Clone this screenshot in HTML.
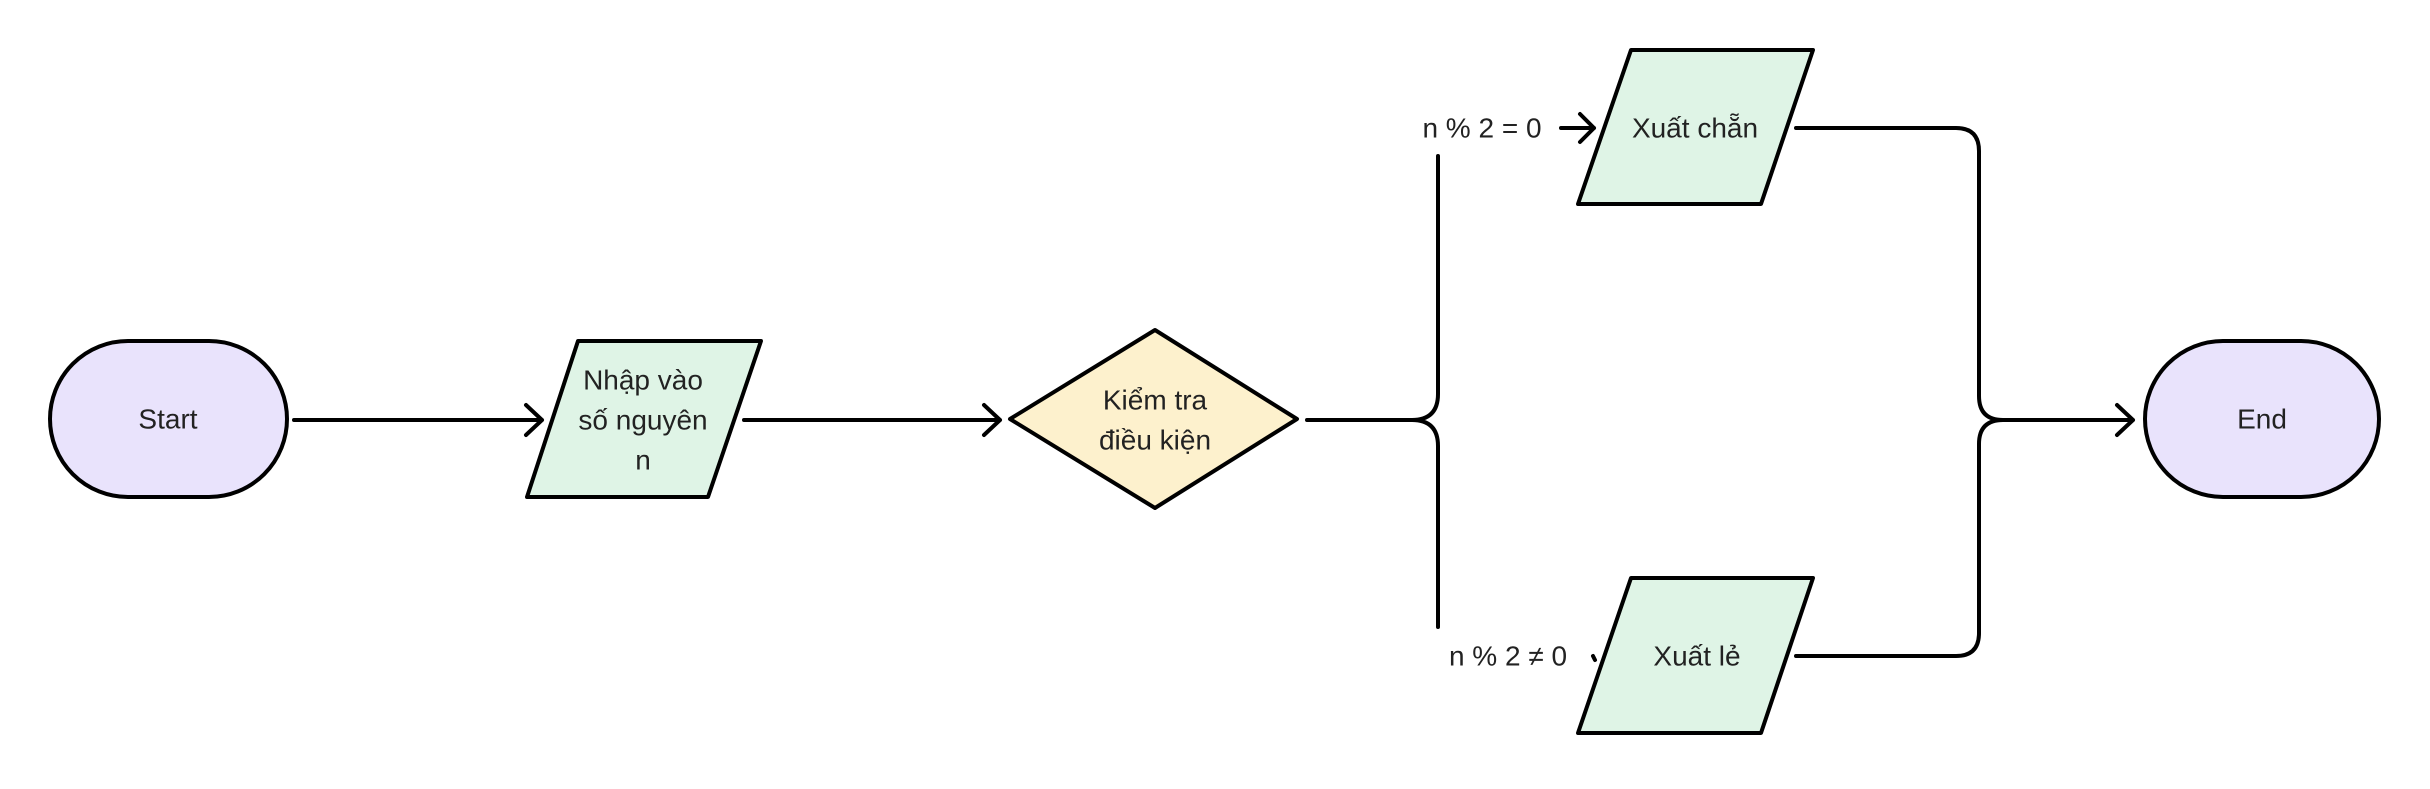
<!DOCTYPE html>
<html><head><meta charset="utf-8"><style>
html,body{margin:0;padding:0;background:#fff;}
svg text{font-family:"Liberation Sans Narrow","Liberation Sans","DejaVu Sans",sans-serif;fill:#222;font-size:28px;text-anchor:middle;dominant-baseline:middle;}
</style></head><body>
<svg width="2430" height="784" viewBox="0 0 2430 784" xmlns="http://www.w3.org/2000/svg">
<g fill="none" stroke="#000" stroke-width="4" stroke-linecap="round" stroke-linejoin="round">
  <path d="M294 420 H542 M526 405 L542 420 L526 435"/>
  <path d="M744 420 H1000 M984 405 L1000 420 L984 435"/>
  <path d="M1307 420 H1412 Q1438 420 1438 394 V156 M1412 420 Q1438 420 1438 446 V627"/>
  <path d="M1561 128 H1594 M1580 114 L1594 128 L1580 142"/>
  <path d="M1593 656 L1595 660"/>
  <path d="M1796 128 H1956 Q1979 128 1979 151 V396 Q1979 420 2003 420 M1796 656 H1956 Q1979 656 1979 633 V444 Q1979 420 2003 420 H2133 M2117 405 L2133 420 L2117 435"/>
</g>
<g stroke="#000" stroke-width="4" stroke-linejoin="round">
  <rect x="50" y="341" width="237" height="156" rx="78" fill="#e9e3fc"/>
  <polygon points="578,341 761,341 708,497 527,497" fill="#dff4e6"/>
  <polygon points="1010,419 1155,330 1297,419 1155,508" fill="#fdf1cd"/>
  <polygon points="1631,50 1813,50 1761,204 1578,204" fill="#dff4e6"/>
  <polygon points="1631,578 1813,578 1761,733 1578,733" fill="#dff4e6"/>
  <rect x="2145" y="341" width="234" height="156" rx="78" fill="#e9e3fc"/>
</g>
<text x="168" y="421">Start</text>
<text x="643" y="382">Nhập vào</text>
<text x="643" y="422">số nguyên</text>
<text x="643" y="462">n</text>
<text x="1155" y="402">Kiểm tra</text>
<text x="1155" y="442">điều kiện</text>
<text x="1482" y="130">n % 2 = 0</text>
<text x="1508" y="658">n % 2 ≠ 0</text>
<text x="1695" y="130">Xuất chẵn</text>
<text x="1697" y="658">Xuất lẻ</text>
<text x="2262" y="421">End</text>
</svg>
</body></html>
